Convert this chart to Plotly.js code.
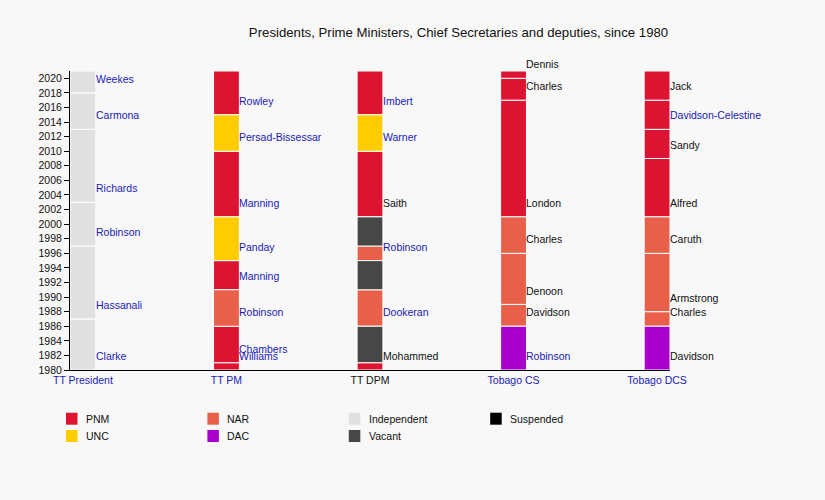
<!DOCTYPE html>
<html>
<head>
<meta charset="utf-8">
<script src="https://cdn.plot.ly/plotly-3.0.1.min.js"></script>
<style>
  html, body { margin: 0; padding: 0; background: #f8f8f8; }
  #grafico { width: 825px; height: 500px; }
</style>
</head>
<body>
<div id="grafico"></div>
<script>
// office columns
const cargos = ['TT President', 'TT PM', 'TT DPM', 'Tobago CS', 'Tobago DCS'];
const cargoLink = [true, true, false, true, true];

// party legend (column-major, as in the picture)
const partidos = ['PNM', 'UNC', 'NAR', 'DAC', 'Independent', 'Vacant', 'Suspended'];
const coresPartido = ['#dc1432', '#ffcc00', '#e8604a', '#aa00cc', '#e0e0e0', '#474747', '#000000'];

// TT President
const presInicio = [1980, 1987, 1997, 2003, 2013, 2018];
const presFim = [1987, 1997, 2003, 2013, 2018, 2021];
const presPartido = ['Independent', 'Independent', 'Independent', 'Independent', 'Independent', 'Independent'];
const presNome = ['Clarke', 'Hassanali', 'Robinson', 'Richards', 'Carmona', 'Weekes'];
const presLink = [1, 1, 1, 1, 1, 1];

// TT PM
const pmInicio = [1980, 1981, 1986, 1991, 1995, 2001, 2010, 2015];
const pmFim = [1981, 1986, 1991, 1995, 2001, 2010, 2015, 2021];
const pmPartido = ['PNM', 'PNM', 'NAR', 'PNM', 'UNC', 'PNM', 'UNC', 'PNM'];
const pmNome = ['Williams', 'Chambers', 'Robinson', 'Manning', 'Panday', 'Manning', 'Persad-Bissessar', 'Rowley'];
const pmLink = [1, 1, 1, 1, 1, 1, 1, 1];

// TT DPM
const dpmInicio = [1980, 1981, 1986, 1991, 1995, 1997, 2001, 2010, 2015];
const dpmFim = [1981, 1986, 1991, 1995, 1997, 2001, 2010, 2015, 2021];
const dpmPartido = ['PNM', 'Vacant', 'NAR', 'Vacant', 'NAR', 'Vacant', 'PNM', 'UNC', 'PNM'];
const dpmNome = ['Mohammed', '', 'Dookeran', '', 'Robinson', '', 'Saith', 'Warner', 'Imbert'];
const dpmLink = [0, 0, 1, 0, 1, 0, 0, 1, 1];

// Tobago Chief Secretary
const csInicio = [1980, 1986, 1989, 1996, 2001, 2017, 2020];
const csFim = [1986, 1989, 1996, 2001, 2017, 2020, 2021];
const csPartido = ['DAC', 'NAR', 'NAR', 'NAR', 'PNM', 'PNM', 'PNM'];
const csNome = ['Robinson', 'Davidson', 'Denoon', 'Charles', 'London', 'Charles', 'Dennis'];
const csLink = [1, 0, 0, 0, 0, 0, 0];

// Tobago Deputy Chief Secretary
const dcsInicio = [1980, 1986, 1988, 1996, 2001, 2009, 2013, 2017];
const dcsFim = [1986, 1988, 1996, 2001, 2009, 2013, 2017, 2021];
const dcsPartido = ['DAC', 'NAR', 'NAR', 'NAR', 'PNM', 'PNM', 'PNM', 'PNM'];
const dcsNome = ['Davidson', 'Charles', 'Armstrong', 'Caruth', 'Alfred', 'Sandy', 'Davidson-Celestine', 'Jack'];
const dcsLink = [0, 0, 0, 0, 0, 0, 1, 0];

const colunas = [
  { inicio: presInicio, fim: presFim, partido: presPartido, nome: presNome, link: presLink },
  { inicio: pmInicio, fim: pmFim, partido: pmPartido, nome: pmNome, link: pmLink },
  { inicio: dpmInicio, fim: dpmFim, partido: dpmPartido, nome: dpmNome, link: dpmLink },
  { inicio: csInicio, fim: csFim, partido: csPartido, nome: csNome, link: csLink },
  { inicio: dcsInicio, fim: dcsFim, partido: dcsPartido, nome: dcsNome, link: dcsLink }
];

const LARGURA = 0.18;
const AZUL = '#1a1ab4';
const PRETO = '#111111';
const FONTE = 'Liberation Sans, Arial, sans-serif';

// plot area in pixels (for placing the hand-made legend)
const M = { l: 70, r: 155, t: 71, b: 130 };
const W = 825, H = 500;
const pw = W - M.l - M.r, ph = H - M.t - M.b;
const px2x = px => (px - M.l) / pw;
const px2y = py => (H - M.b - py) / ph;
const pxAno = ph / 41; // pixels per year on the y axis

// one bar trace per party
const traces = partidos.map((p, k) => {
  const x = [], y = [], base = [];
  colunas.forEach((col, c) => {
    col.partido.forEach((pp, i) => {
      if (pp !== p) return;
      x.push(c);
      base.push(col.inicio[i]);
      y.push(col.fim[i] - col.inicio[i]);
    });
  });
  return {
    type: 'bar', x: x, y: y, base: base, width: LARGURA, name: p,
    marker: { color: coresPartido[k], line: { color: '#ffffff', width: 1 } },
    hoverinfo: 'skip', showlegend: false
  };
});

// holder names next to the bars, a bit above the start of each term
const annotations = [];
colunas.forEach((col, c) => {
  col.nome.forEach((n, i) => {
    if (!n) return;
    annotations.push({
      x: c + LARGURA / 2, y: col.inicio[i], xref: 'x', yref: 'y',
      xanchor: 'left', yanchor: 'middle', yshift: 1.9 * pxAno, showarrow: false,
      text: n, borderpad: 0, borderwidth: 0,
      font: { family: FONTE, size: 10.5, color: col.link[i] ? AZUL : PRETO }
    });
  });
});

// legend: squares + text
const shapes = [];
partidos.forEach((p, k) => {
  const coluna = Math.floor(k / 2), linha = k % 2;
  const x0 = 66 + coluna * 141.4;
  const yc = 418.7 + linha * 17.3;
  shapes.push({
    type: 'rect', xref: 'paper', yref: 'paper',
    x0: px2x(x0), x1: px2x(x0 + 11.5), y0: px2y(yc - 6), y1: px2y(yc + 6),
    fillcolor: coresPartido[k], line: { width: 0 }
  });
  annotations.push({
    x: px2x(x0 + 19), y: px2y(yc), xref: 'paper', yref: 'paper',
    xanchor: 'left', yanchor: 'middle', showarrow: false, text: p,
    borderpad: 0, font: { family: FONTE, size: 10.5, color: PRETO }
  });
});

const layout = {
  width: W, height: H,
  margin: M,
  paper_bgcolor: '#f8f8f8',
  plot_bgcolor: '#f8f8f8',
  barmode: 'overlay',
  showlegend: false,
  font: { family: FONTE, color: PRETO },
  title: {
    text: 'Presidents, Prime Ministers, Chief Secretaries and deputies, since 1980',
    font: { family: FONTE, size: 13.2, color: PRETO },
    xref: 'container', x: 458.5 / W, xanchor: 'center',
    yref: 'container', y: 1 - 32 / H, yanchor: 'middle'
  },
  xaxis: {
    range: [-LARGURA / 2, cargos.length - 1 + LARGURA / 2],
    tickmode: 'array',
    tickvals: cargos.map((_, i) => i),
    ticktext: cargos.map((c, i) => '<span style="color:' + (cargoLink[i] ? AZUL : PRETO) + '">' + c + '</span>'),
    ticks: '', showgrid: false, zeroline: false,
    showline: true, linecolor: '#000000', linewidth: 1,
    tickfont: { family: FONTE, size: 10.5 },
    fixedrange: true
  },
  yaxis: {
    range: [1980, 2021],
    tickmode: 'linear', tick0: 1980, dtick: 2,
    ticks: 'outside', ticklen: 5, tickcolor: '#000000',
    showgrid: false, zeroline: false,
    showline: true, linecolor: '#000000', linewidth: 1,
    tickfont: { family: FONTE, size: 10.5, color: PRETO },
    fixedrange: true
  },
  shapes: shapes,
  annotations: annotations
};

Plotly.newPlot('grafico', traces, layout, { displayModeBar: false, staticPlot: true });
</script>
</body>
</html>
